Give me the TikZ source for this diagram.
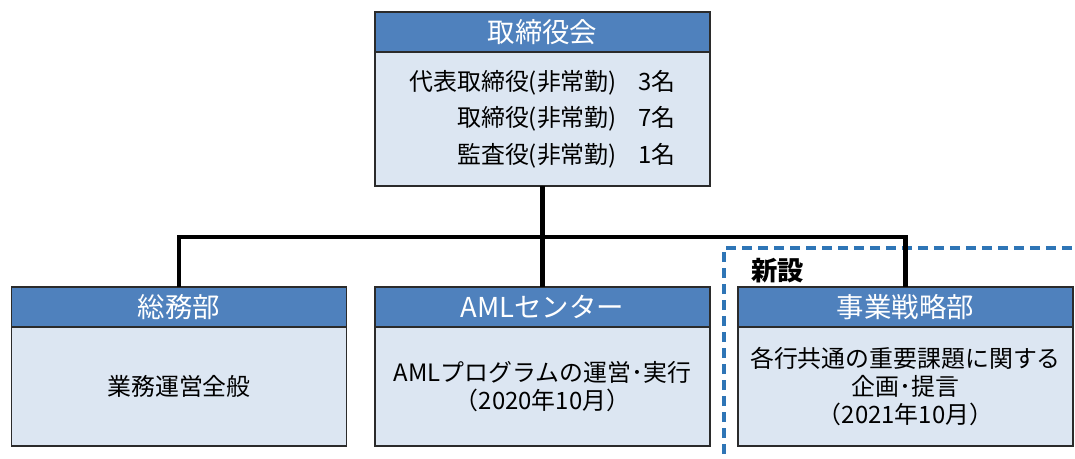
\documentclass[tikz,border=0pt]{standalone}
\usepackage{fontspec}
\setmainfont{Noto Sans CJK JP}
\usetikzlibrary{positioning}
\definecolor{headblue}{HTML}{4F81BD}
\definecolor{paleblue}{HTML}{DCE6F2}
\definecolor{framegray}{HTML}{2B2B2B}
\definecolor{newblue}{HTML}{2E75B6}

\begin{document}
\begin{tikzpicture}[
    headbox/.style={draw=framegray,line width=0.9pt,fill=headblue,text=white,
      minimum width=6.7cm,minimum height=0.8cm,inner sep=0pt,outer sep=0pt,
      font=\fontsize{15.6}{18}\selectfont},
    bodybox/.style={draw=framegray,line width=0.9pt,fill=paleblue,
      minimum width=6.7cm,inner sep=0pt,outer sep=0pt,align=center,
      font=\fontsize{13.6}{15.9}\selectfont},
    link/.style={line width=2.3pt}]
    \useasboundingbox (0,0) rectangle (21.5,-9.18);
    % new section frame
    \draw[newblue,line width=2.1pt,dash pattern=on 0.2cm off 0.12cm]
      (14.48,-9.4) |- (21.7,-4.96);
    \node[anchor=west,font=\fontsize{15}{18}\selectfont\bfseries] (shinsetsu)
      at (14.9,-5.42) {新設};
    % board
    \node[headbox] (board) at (10.85,-0.64) {取締役会};
    \node[bodybox,minimum height=2.68cm,align=right,
      font=\fontsize{13.6}{20.8}\selectfont,below=0pt of board] (boardbody)
      {代表取締役(非常勤)\hspace{0.9em}3名\\
       取締役(非常勤)\hspace{0.9em}7名\\
       監査役(非常勤)\hspace{0.9em}1名};
    % departments
    \node[headbox] (soumu) at (3.58,-6.14) {総務部};
    \node[bodybox,minimum height=2.38cm,below=0pt of soumu] (soumubody)
      {業務運営全般};
    \node[headbox] (aml) at (10.85,-6.14) {AMLセンター};
    \node[bodybox,minimum height=2.38cm,below=0pt of aml] (amlbody)
      {AMLプログラムの運営･実行\\（2020年10月）};
    \node[headbox] (senryaku) at (18.11,-6.14) {事業戦略部};
    \node[bodybox,minimum height=2.38cm,below=0pt of senryaku] (senryakubody)
      {各行共通の重要課題に関する\\企画･提言\\（2021年10月）};
    % connectors
    \coordinate (bus) at (0,-4.74);
    \draw[link] (boardbody.south) -- (boardbody.south |- bus);
    \draw[link] (soumu.north) -- (soumu.north |- bus)
      -- (senryaku.north |- bus) -- (senryaku.north);
    \draw[link] (aml.north) -- (aml.north |- bus);
  \end{tikzpicture}
\end{document}
